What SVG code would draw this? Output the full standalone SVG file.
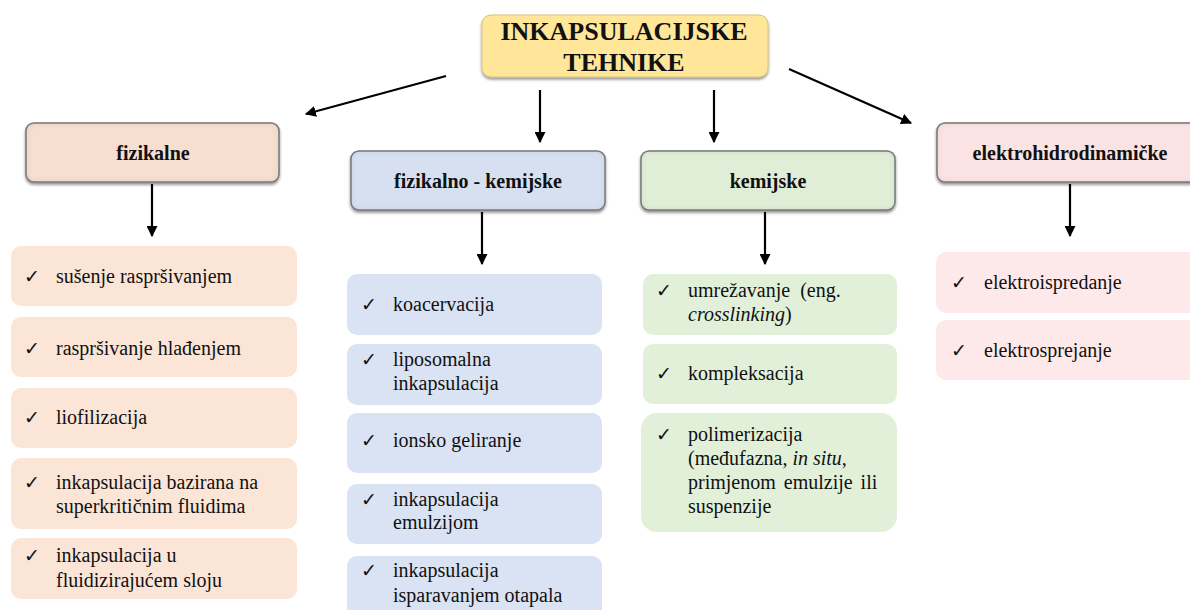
<svg xmlns="http://www.w3.org/2000/svg" width="1190" height="610" viewBox="0 0 1190 610" font-family="'Liberation Serif', 'Times New Roman', serif">
<defs>
<marker id="ah" viewBox="0 0 10 10" refX="9" refY="5" markerWidth="5" markerHeight="5" orient="auto" markerUnits="strokeWidth">
<path d="M0,0 L10,5 L0,10 z" fill="#000"/>
</marker>
<filter id="sh" x="-10%" y="-20%" width="120%" height="150%">
<feGaussianBlur in="SourceAlpha" stdDeviation="1.5"/>
<feOffset dx="0" dy="2" result="b"/>
<feComponentTransfer><feFuncA type="linear" slope="0.45"/></feComponentTransfer>
<feMerge><feMergeNode/><feMergeNode in="SourceGraphic"/></feMerge>
</filter>
<filter id="inner" x="-5%" y="-10%" width="110%" height="120%">
<feGaussianBlur in="SourceAlpha" stdDeviation="3" result="blur"/>
<feComposite in="SourceAlpha" in2="blur" operator="out" result="edge"/>
<feFlood flood-color="#000" flood-opacity="0.25"/>
<feComposite in2="edge" operator="in" result="ish"/>
<feMerge><feMergeNode in="SourceGraphic"/><feMergeNode in="ish"/></feMerge>
</filter>
</defs>
<style>
.t{font-size:26px;font-weight:bold;text-anchor:middle;fill:#111;}
.c{font-size:20px;font-weight:bold;text-anchor:middle;fill:#111;}
.i{font-size:20px;fill:#111;}
.k{font-size:19px;fill:#111;font-family:"DejaVu Sans",sans-serif;}
.cat{stroke:#7f7f7f;stroke-width:1.5;filter:url(#inner);}
.catg{filter:url(#sh);}
.p1{fill:#fbe5d6;}
.p2{fill:#dae3f3;}
.p3{fill:#e2f0d9;}
.p4{fill:#fde9ea;}
.con line{stroke:#000;stroke-width:2.2;marker-end:url(#ah);}
</style>

<g id="title">
<rect x="482" y="15" width="286" height="62" rx="9" fill="#ffe699" stroke="#d9c27a" stroke-width="1" filter="url(#sh)"/>
<text class="t" x="624" y="40">INKAPSULACIJSKE</text>
<text class="t" x="624" y="71">TEHNIKE</text>
</g>

<g id="cat-fizikalne">
<g class="catg"><rect class="cat" x="26" y="123" width="253" height="59" rx="8" fill="#f6ded1"/></g>
<text class="c" x="153" y="160">fizikalne</text>
</g>
<g id="cat-fizkem">
<g class="catg"><rect class="cat" x="351" y="151" width="254" height="59" rx="8" fill="#d7e0f1"/></g>
<text class="c" x="478" y="188">fizikalno - kemijske</text>
</g>
<g id="cat-kemijske">
<g class="catg"><rect class="cat" x="641" y="151" width="254" height="59" rx="8" fill="#e0eed7"/></g>
<text class="c" x="768" y="188">kemijske</text>
</g>
<g id="cat-elektro">
<g class="catg"><rect class="cat" x="937" y="123" width="262" height="59" rx="8" fill="#fbe3e4"/></g>
<text class="c" x="1070" y="160">elektrohidrodinamičke</text>
</g>

<g class="con">
<line x1="446" y1="76" x2="306" y2="114"/>
<line x1="540" y1="90" x2="540" y2="142"/>
<line x1="714" y1="90" x2="714" y2="142"/>
<line x1="789" y1="69" x2="911" y2="123"/>
<line x1="152" y1="184" x2="152" y2="236"/>
<line x1="482" y1="212" x2="482" y2="264"/>
<line x1="765" y1="212" x2="765" y2="264"/>
<line x1="1070" y1="184" x2="1070" y2="236"/>
</g>

<!-- column 1 -->
<g id="i-susenje">
<rect class="p1" x="11" y="246" width="286" height="60" rx="10"/>
<text class="k" x="24" y="283">✓</text>
<text class="i" x="56" y="283">sušenje raspršivanjem</text>
</g>
<g id="i-hladjenje">
<rect class="p1" x="11" y="317" width="286" height="60" rx="10"/>
<text class="k" x="24" y="355">✓</text>
<text class="i" x="56" y="355">raspršivanje hlađenjem</text>
</g>
<g id="i-liofilizacija">
<rect class="p1" x="11" y="388" width="286" height="60" rx="10"/>
<text class="k" x="24" y="424">✓</text>
<text class="i" x="56" y="424">liofilizacija</text>
</g>
<g id="i-superkriticni">
<rect class="p1" x="11" y="458" width="286" height="71" rx="10"/>
<text class="k" x="24" y="489">✓</text>
<text class="i" x="56" y="489">inkapsulacija bazirana na</text>
<text class="i" x="56" y="513">superkritičnim fluidima</text>
</g>
<g id="i-fluidizirajuci">
<rect class="p1" x="11" y="538" width="286" height="61" rx="10"/>
<text class="k" x="24" y="562">✓</text>
<text class="i" x="56" y="562">inkapsulacija u</text>
<text class="i" x="56" y="587">fluidizirajućem sloju</text>
</g>

<!-- column 2 -->
<g id="i-koacervacija">
<rect class="p2" x="347" y="274" width="255" height="61" rx="10"/>
<text class="k" x="361" y="311">✓</text>
<text class="i" x="393" y="311">koacervacija</text>
</g>
<g id="i-liposomalna">
<rect class="p2" x="347" y="344" width="255" height="61" rx="10"/>
<text class="k" x="361" y="366">✓</text>
<text class="i" x="393" y="366">liposomalna</text>
<text class="i" x="393" y="390">inkapsulacija</text>
</g>
<g id="i-ionsko">
<rect class="p2" x="347" y="413" width="255" height="60" rx="10"/>
<text class="k" x="361" y="447">✓</text>
<text class="i" x="393" y="447">ionsko geliranje</text>
</g>
<g id="i-emulzijom">
<rect class="p2" x="347" y="484" width="255" height="60" rx="10"/>
<text class="k" x="361" y="506">✓</text>
<text class="i" x="393" y="506">inkapsulacija</text>
<text class="i" x="393" y="529">emulzijom</text>
</g>
<g id="i-isparavanjem">
<rect class="p2" x="347" y="556" width="255" height="70" rx="10"/>
<text class="k" x="361" y="577">✓</text>
<text class="i" x="393" y="577">inkapsulacija</text>
<text class="i" x="393" y="602">isparavanjem otapala</text>
</g>

<!-- column 3 -->
<g id="i-umrezavanje">
<rect class="p3" x="643" y="274" width="254" height="61" rx="10"/>
<text class="k" x="656" y="297">✓</text>
<text class="i" x="688" y="297" word-spacing="5">umrežavanje (eng.</text>
<text class="i" x="688" y="321"><tspan font-style="italic">crosslinking</tspan>)</text>
</g>
<g id="i-kompleksacija">
<rect class="p3" x="643" y="344" width="254" height="60" rx="10"/>
<text class="k" x="656" y="380">✓</text>
<text class="i" x="688" y="380">kompleksacija</text>
</g>
<g id="i-polimerizacija">
<rect class="p3" x="641" y="413" width="256" height="119" rx="16"/>
<text class="k" x="656" y="441">✓</text>
<text class="i" x="688" y="441">polimerizacija</text>
<text class="i" x="688" y="465">(međufazna, <tspan font-style="italic">in situ,</tspan></text>
<text class="i" x="688" y="489" word-spacing="3">primjenom emulzije ili</text>
<text class="i" x="688" y="513">suspenzije</text>
</g>

<!-- column 4 -->
<g id="i-elektroispredanje">
<rect class="p4" x="936" y="252" width="264" height="61" rx="10"/>
<text class="k" x="951" y="289">✓</text>
<text class="i" x="984" y="289">elektroispredanje</text>
</g>
<g id="i-elektrosprejanje">
<rect class="p4" x="936" y="320" width="264" height="60" rx="10"/>
<text class="k" x="951" y="357">✓</text>
<text class="i" x="984" y="357">elektrosprejanje</text>
</g>
</svg>
